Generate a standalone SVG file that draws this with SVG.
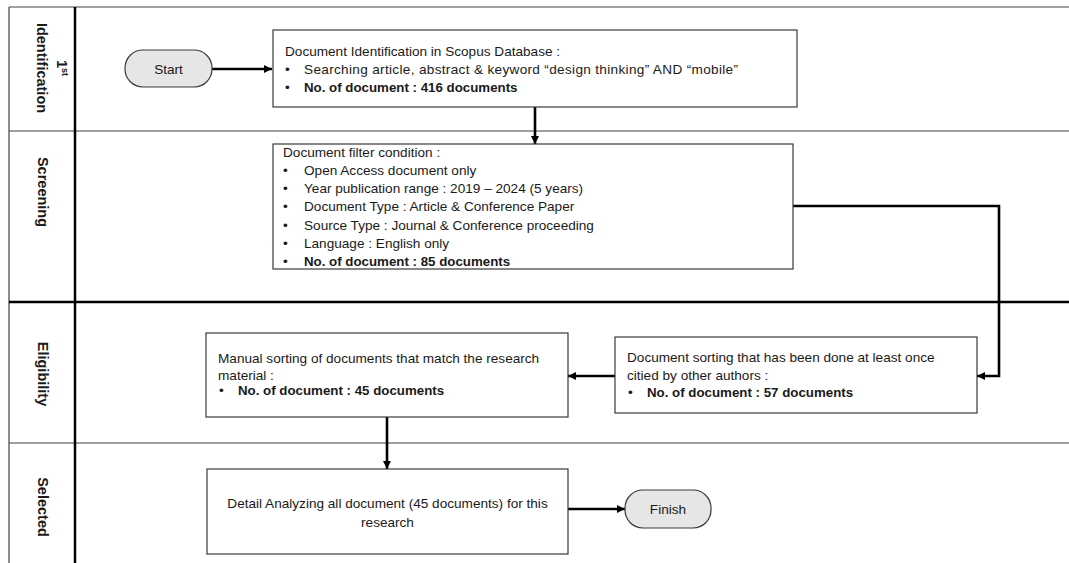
<svg xmlns="http://www.w3.org/2000/svg" width="1069" height="563" viewBox="0 0 1069 563">
<defs>
<style>
.t{font-family:"Liberation Sans",Arial,sans-serif;font-size:13.6px;fill:#1a1a1a}
.b{font-weight:bold;font-size:13.3px}
.lane{font-family:"Liberation Sans",Arial,sans-serif;font-size:14.5px;font-weight:bold;fill:#1a1a1a}
.box{fill:#ffffff;stroke:#3a3a3a;stroke-width:1.2}
.term{fill:#e6e6e6;stroke:#3a3a3a;stroke-width:1.2}
.thin{stroke:#404040;stroke-width:1.2;fill:none}
.thick{stroke:#000;stroke-width:2.5;fill:none}
.conn{stroke:#000;stroke-width:2.6;fill:none}
</style>
<marker id="ah" viewBox="0 0 10 10" refX="10" refY="5" markerWidth="9" markerHeight="8" markerUnits="userSpaceOnUse" orient="auto">
<path d="M0,0 L10,5 L0,10 z" fill="#000"/>
</marker>
</defs>
<rect x="0" y="0" width="1069" height="563" fill="#ffffff"/>
<g id="lanes">
<line class="thin" x1="9" y1="7" x2="1069" y2="7"/>
<line class="thin" x1="9" y1="7" x2="9" y2="563"/>
<line class="thin" x1="9" y1="131" x2="1069" y2="131"/>
<line class="thick" x1="9" y1="302" x2="1069" y2="302"/>
<line class="thin" x1="9" y1="443" x2="1069" y2="443"/>
<line class="thick" x1="75" y1="7" x2="75" y2="563" stroke-width="2.2"/>
<text class="lane" transform="translate(57,68) rotate(90)" text-anchor="middle">1<tspan font-size="9" dy="-5">st</tspan></text>
<text class="lane" transform="translate(37,68) rotate(90)" text-anchor="middle">Identification</text>
<text class="lane" transform="translate(38,192) rotate(90)" text-anchor="middle">Screening</text>
<text class="lane" transform="translate(38,374) rotate(90)" text-anchor="middle">Eligibility</text>
<text class="lane" transform="translate(38,507) rotate(90)" text-anchor="middle">Selected</text>
</g>
<g id="connectors">
<path class="conn" d="M212,69 H272" marker-end="url(#ah)"/>
<path class="conn" d="M535,107 V144" marker-end="url(#ah)"/>
<path class="conn" d="M793,206 H999 V376 H977" marker-end="url(#ah)"/>
<path class="conn" d="M615,376 H568" marker-end="url(#ah)"/>
<path class="conn" d="M387,417 V469" marker-end="url(#ah)"/>
<path class="conn" d="M568,509 H625" marker-end="url(#ah)"/>
</g>
<g id="start">
<rect class="term" x="125" y="50" width="87" height="37" rx="18" ry="18"/>
<text class="t" x="168.5" y="74" text-anchor="middle">Start</text>
</g>
<g id="identification-box">
<rect class="box" x="273" y="30" width="524" height="77"/>
<text class="t" x="285" y="56">Document Identification in Scopus Database :</text>
<text class="t" x="285" y="74">•</text>
<text class="t" x="304" y="74" textLength="434" lengthAdjust="spacing">Searching article, abstract &amp; keyword “design thinking” AND “mobile”</text>
<text class="t" x="285" y="92">•</text>
<text class="t b" x="304" y="92">No. of document : 416 documents</text>
</g>
<g id="screening-box">
<rect class="box" x="273" y="144" width="520" height="125"/>
<text class="t" x="283" y="157">Document filter condition :</text>
<text class="t" x="283" y="175">•</text><text class="t" x="304" y="175">Open Access document only</text>
<text class="t" x="283" y="193">•</text><text class="t" x="304" y="193">Year publication range : 2019 – 2024 (5 years)</text>
<text class="t" x="283" y="211">•</text><text class="t" x="304" y="211">Document Type : Article &amp; Conference Paper</text>
<text class="t" x="283" y="230">•</text><text class="t" x="304" y="230">Source Type : Journal &amp; Conference proceeding</text>
<text class="t" x="283" y="248">•</text><text class="t" x="304" y="248">Language : English only</text>
<text class="t" x="283" y="266">•</text><text class="t b" x="304" y="266">No. of document : 85 documents</text>
</g>
<g id="citation-box">
<rect class="box" x="615" y="337" width="362" height="76"/>
<text class="t" x="627" y="362">Document sorting that has been done at least once</text>
<text class="t" x="627" y="380">citied by other authors :</text>
<text class="t" x="628" y="397">•</text><text class="t b" x="647" y="397">No. of document : 57 documents</text>
</g>
<g id="manual-box">
<rect class="box" x="206" y="333" width="362" height="84"/>
<text class="t" x="218" y="363">Manual sorting of documents that match the research</text>
<text class="t" x="218" y="380">material :</text>
<text class="t" x="219" y="395">•</text><text class="t b" x="238" y="395">No. of document : 45 documents</text>
</g>
<g id="selected-box">
<rect class="box" x="207" y="469" width="361" height="85"/>
<text class="t" x="387.5" y="508" text-anchor="middle">Detail Analyzing all document (45 documents) for this</text>
<text class="t" x="387.5" y="527" text-anchor="middle">research</text>
</g>
<g id="finish">
<rect class="term" x="625" y="490" width="86" height="38" rx="18" ry="18"/>
<text class="t" x="668" y="514" text-anchor="middle">Finish</text>
</g>
</svg>
